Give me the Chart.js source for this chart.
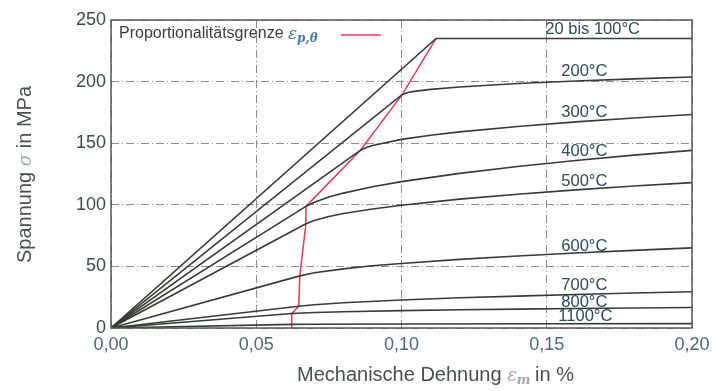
<!DOCTYPE html>
<html>
<head>
<meta charset="utf-8">
<script src="https://cdn.jsdelivr.net/npm/chart.js@4/dist/chart.umd.min.js"></script>
<style>
  html, body { margin: 0; padding: 0; background: #fff; }
  #wrap { width: 720px; height: 391px; }
</style>
</head>
<body>
<div id="wrap"><canvas id="myChart" width="720" height="391"></canvas></div>
<script>
// stress-strain curves, strain in %, stress in MPa
const strain20 = [0, 0.1119, 0.20];
const stress20 = [0, 235, 235];
const strain200 = [0, 0.1003, 0.1025, 0.105, 0.11, 0.12, 0.14, 0.16, 0.18, 0.20];
const stress200 = [0, 189.6, 191.3, 192.3, 193.7, 195.6, 198.4, 200.5, 202.2, 203.7];
const strain300 = [0, 0.0858, 0.0875, 0.09, 0.10, 0.11, 0.12, 0.14, 0.16, 0.18, 0.20];
const stress300 = [0, 144.1, 146.2, 148.1, 153.1, 156.4, 159.2, 163.6, 167.3, 170.5, 173.3];
const strain400 = [0, 0.0671, 0.07, 0.075, 0.08, 0.09, 0.10, 0.12, 0.14, 0.16, 0.18, 0.20];
const stress400 = [0, 98.7, 102.1, 106.3, 109.5, 114.6, 118.8, 125.5, 131.1, 136.0, 140.3, 144.2];
const strain500 = [0, 0.0671, 0.07, 0.075, 0.08, 0.09, 0.10, 0.12, 0.14, 0.16, 0.18, 0.20];
const stress500 = [0, 84.6, 87.3, 90.5, 92.9, 96.6, 99.6, 104.6, 108.6, 112.1, 115.2, 118.0];
const strain600 = [0, 0.065, 0.07, 0.08, 0.09, 0.10, 0.12, 0.14, 0.16, 0.18, 0.20];
const stress600 = [0, 42.3, 44.8, 48.0, 50.5, 52.4, 55.7, 58.5, 60.9, 63.0, 65.0];
const strain700 = [0, 0.0646, 0.07, 0.08, 0.10, 0.12, 0.14, 0.16, 0.18, 0.20];
const stress700 = [0, 17.6, 18.9, 20.5, 22.7, 24.5, 25.9, 27.2, 28.4, 29.4];
const strain800 = [0, 0.0622, 0.07, 0.08, 0.10, 0.12, 0.14, 0.16, 0.18, 0.20];
const stress800 = [0, 11.75, 12.6, 13.2, 14.1, 14.8, 15.3, 15.8, 16.2, 16.6];
const strain1100 = [0, 0.0622, 0.07, 0.10, 0.15, 0.20];
const stress1100 = [0, 2.94, 3.07, 3.26, 3.44, 3.57];

// proportional limit line
const strainProp = [0.0622, 0.0622, 0.0622, 0.0646, 0.0650, 0.0671, 0.0671, 0.0858, 0.1003, 0.1119];
const stressProp = [0, 2.94, 11.75, 17.6, 42.3, 84.6, 98.7, 144.1, 189.6, 235];

const curveLabels = ["20 bis 100°C", "200°C", "300°C", "400°C", "500°C", "600°C", "700°C", "800°C", "1100°C"];
const labelX = [0.1495, 0.155, 0.155, 0.155, 0.155, 0.155, 0.155, 0.155, 0.154];
const labelY = [242.5, 208.5, 175, 143, 119, 66, 34.5, 21, 9];

const xTicks = [0, 0.05, 0.10, 0.15, 0.20];

const curves = [
  [strain20, stress20], [strain200, stress200], [strain300, stress300],
  [strain400, stress400], [strain500, stress500], [strain600, stress600],
  [strain700, stress700], [strain800, stress800], [strain1100, stress1100]
];

function toPoints(xs, ys) {
  return xs.map((x, i) => ({ x: x, y: ys[i] }));
}

const datasets = curves.map((c, i) => ({
  label: curveLabels[i],
  data: toPoints(c[0], c[1]),
  borderColor: "#363d34",
  borderWidth: 1.6,
  pointRadius: 0,
  showLine: true,
  fill: false
}));
datasets.push({
  label: "Proportionalitätsgrenze",
  data: toPoints(strainProp, stressProp),
  borderColor: "#e8385c",
  borderWidth: 1.5,
  pointRadius: 0,
  showLine: true,
  fill: false
});

// curve labels, legend, axis titles, frame
const decorations = {
  id: "decorations",
  afterDatasetsDraw(chart) {
    const ctx = chart.ctx;
    const xs = chart.scales.x, ys = chart.scales.y;
    const area = chart.chartArea;
    ctx.save();

    // frame
    ctx.strokeStyle = "#555a58";
    ctx.lineWidth = 1.5;
    ctx.strokeRect(area.left, area.top, area.right - area.left, area.bottom - area.top);

    // curve labels
    ctx.font = "16.5px 'Liberation Sans', Arial, sans-serif";
    ctx.fillStyle = "#2f4a5b";
    ctx.textBaseline = "middle";
    ctx.textAlign = "left";
    curveLabels.forEach((t, i) => {
      ctx.fillText(t, xs.getPixelForValue(labelX[i]), ys.getPixelForValue(labelY[i]));
    });

    // legend
    const ly = area.top + 14;
    ctx.font = "16px 'Liberation Sans', Arial, sans-serif";
    ctx.fillStyle = "#3a3f3f";
    const lx = area.left + 8;
    ctx.fillText("Proportionalitätsgrenze", lx, ly);
    let w = ctx.measureText("Proportionalitätsgrenze ").width;
    ctx.font = "italic 17px 'DejaVu Serif', 'Liberation Serif', serif";
    ctx.fillStyle = "#3f7fa0";
    ctx.fillText("ε", lx + w, ly + 1);
    w += ctx.measureText("ε").width;
    ctx.font = "italic bold 12px 'DejaVu Serif', 'Liberation Serif', serif";
    ctx.fillText("p,θ", lx + w, ly + 5);
    ctx.strokeStyle = "#e8385c";
    ctx.lineWidth = 1.5;
    ctx.beginPath();
    ctx.moveTo(area.left + 230, ly + 1);
    ctx.lineTo(area.left + 270, ly + 1);
    ctx.stroke();

    // x axis title
    ctx.textBaseline = "alphabetic";
    ctx.font = "20px 'Liberation Sans', Arial, sans-serif";
    ctx.fillStyle = "#4a5050";
    const tx = 297, ty = 381;
    ctx.fillText("Mechanische Dehnung ", tx, ty);
    let tw = ctx.measureText("Mechanische Dehnung ").width;
    ctx.font = "italic 18px 'DejaVu Serif', 'Liberation Serif', serif";
    ctx.fillStyle = "#9aa8b0";
    ctx.fillText("ε", tx + tw, ty);
    tw += ctx.measureText("ε").width;
    ctx.font = "italic bold 13px 'DejaVu Serif', 'Liberation Serif', serif";
    ctx.fillText("m", tx + tw, ty + 3);
    tw += ctx.measureText("m ").width;
    ctx.font = "20px 'Liberation Sans', Arial, sans-serif";
    ctx.fillStyle = "#4a5050";
    ctx.fillText("in %", tx + tw, ty);

    // y axis title
    ctx.translate(31, 263);
    ctx.rotate(-Math.PI / 2);
    ctx.font = "20px 'Liberation Sans', Arial, sans-serif";
    ctx.fillText("Spannung ", 0, 0);
    let sw = ctx.measureText("Spannung ").width;
    ctx.font = "italic 18px 'DejaVu Serif', 'Liberation Serif', serif";
    ctx.fillStyle = "#9aa8b0";
    ctx.fillText("σ", sw, 0);
    sw += ctx.measureText("σ ").width;
    ctx.font = "20px 'Liberation Sans', Arial, sans-serif";
    ctx.fillStyle = "#4a5050";
    ctx.fillText("in MPa", sw, 0);

    ctx.restore();
  }
};

const ctx = document.getElementById("myChart").getContext("2d");
const myChart = new Chart(ctx, {
  type: "scatter",
  data: { datasets: datasets },
  options: {
    responsive: false,
    animation: false,
    layout: { padding: { top: 20, right: 28, left: 0, bottom: 0 } },
    plugins: {
      legend: { display: false },
      tooltip: { enabled: false }
    },
    scales: {
      x: {
        type: "linear",
        min: 0,
        max: 0.2,
        afterBuildTicks: (scale) => { scale.ticks = xTicks.map(v => ({ value: v })); },
        afterFit: (scale) => { scale.height = 63; },
        grid: { color: "#8c8f8c", lineWidth: 1, drawTicks: false },
        border: { display: false, dash: [8, 3, 1, 3] },
        ticks: {
          padding: 6,
          color: "#4d6a78",
          font: { size: 18, family: "'Liberation Sans', Arial, sans-serif" },
          callback: (v) => Number(v).toFixed(2).replace(".", ",")
        }
      },
      y: {
        min: 0,
        max: 250,
        afterFit: (scale) => { scale.width = 111; },
        grid: { color: "#8c8f8c", lineWidth: 1, drawTicks: false },
        border: { display: false, dash: [8, 3, 1, 3] },
        ticks: {
          stepSize: 50,
          padding: 5,
          color: "#3e4a4e",
          font: { size: 18, family: "'Liberation Sans', Arial, sans-serif" }
        }
      }
    }
  },
  plugins: [decorations]
});
</script>
</body>
</html>
